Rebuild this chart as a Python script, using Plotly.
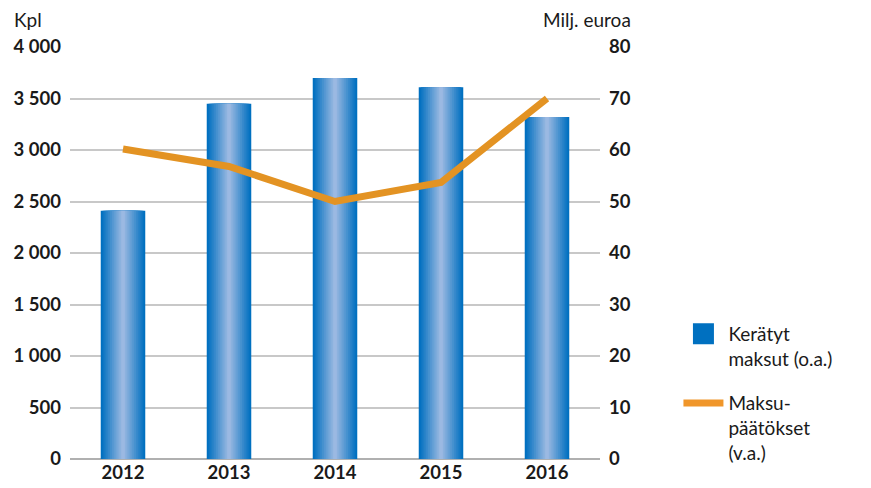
import plotly.graph_objects as go

years = ["2012", "2013", "2014", "2015", "2016"]
kerätyt = [2410, 3450, 3700, 3610, 3320]
päätökset = [60.2, 56.8, 50.0, 53.7, 70.0]
left_ticks = [0, 500, 1000, 1500, 2000, 2500, 3000, 3500, 4000]
left_labels = ["0", "500", "1 000", "1 500", "2 000", "2 500", "3 000", "3 500", "4 000"]
right_ticks = [0, 10, 20, 30, 40, 50, 60, 70, 80]

FONT = "Lato, 'Open Sans', sans-serif"
TICKFONT = dict(size=18.5, family=FONT, weight="bold", color="#1a1a1a")
fig = go.Figure()

# gradient bars simulated with overlaid bars of decreasing width
dark = (0, 112, 192)
light = (155, 185, 226)
n = 12
full_w = 0.42
for i in range(n):
    t = i / (n - 1)
    c = tuple(int(dark[k] + (light[k] - dark[k]) * t) for k in range(3))
    w = full_w * (1 - i / n)
    fig.add_trace(go.Bar(
        x=years, y=kerätyt, width=w,
        marker=dict(color=f"rgb{c}", line=dict(width=0)),
        showlegend=False, hoverinfo="skip" if i else None,
    ))

fig.add_trace(go.Scatter(
    x=years, y=päätökset, yaxis="y2", mode="lines",
    line=dict(color="#E39323", width=7), showlegend=False,
))

# legend entries
fig.add_trace(go.Scatter(
    x=[None], y=[None], mode="markers",
    marker=dict(symbol="square", size=16, color="#0070C0",
                line=dict(color="#0070C0", width=5)),
    name="Kerätyt<br>maksut (o.a.)", legendrank=1, legendgroup="a",
))
fig.add_trace(go.Scatter(
    x=[None], y=[None], mode="lines", yaxis="y2",
    line=dict(color="#F0962A", width=7),
    name="Maksu-<br>päätökset<br>(v.a.)", legendrank=2, legendgroup="b",
))

# page body adds an 8px margin, so the figure is 8px smaller and shifted
fig.update_layout(
    width=863, height=480,
    margin=dict(l=62, r=271, t=39, b=29, autoexpand=False),
    paper_bgcolor="white", plot_bgcolor="white",
    barmode="overlay",
    font=dict(family=FONT, size=19, color="#1a1a1a"),
    xaxis=dict(showgrid=False, tickfont=TICKFONT, ticks="", showline=False),
    yaxis=dict(range=[0, 4000], tickvals=left_ticks, ticktext=left_labels,
               tickfont=TICKFONT,
               gridcolor="#c8c8c8", gridwidth=1.5, zeroline=True, zerolinecolor="#b0b0b0",
               zerolinewidth=2, ticklabelstandoff=8),
    yaxis2=dict(range=[0, 80], tickvals=right_ticks, overlaying="y", side="right",
                showgrid=False, zeroline=False,
                tickfont=TICKFONT, ticklabelstandoff=8),
    legend=dict(x=1.148, xanchor="left", y=0.35, yanchor="top", valign="top",
                font=dict(size=19, family=FONT, color="#1a1a1a"),
                tracegroupgap=17, itemwidth=40, bgcolor="rgba(0,0,0,0)"),
)
fig.add_annotation(text="Kpl", xref="paper", yref="paper", x=-0.109, y=1.066,
                   xanchor="left", yanchor="middle", showarrow=False,
                   font=dict(size=19, family=FONT))
fig.add_annotation(text="Milj. euroa", xref="paper", yref="paper", x=1.062, y=1.066,
                   xanchor="right", yanchor="middle", showarrow=False,
                   font=dict(size=19, family=FONT))

fig.write_html("out.html")
